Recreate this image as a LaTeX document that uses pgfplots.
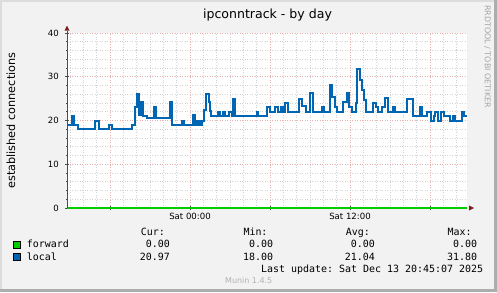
\documentclass[border=0pt]{standalone}
\usepackage{fontspec}
\setmainfont{DejaVu Sans}
\setmonofont{DejaVu Sans Mono}
\usepackage{pgfplots}
\pgfplotsset{compat=1.18}
\definecolor{bgc}{HTML}{F2F2F2}
\definecolor{mgrid}{HTML}{EDB0B0}
\definecolor{ngrid}{HTML}{D2D2D2}
\definecolor{localc}{HTML}{0066B3}
\definecolor{fwdc}{HTML}{00CC00}
\definecolor{arrowc}{HTML}{7F1F1F}
\definecolor{framedark}{HTML}{ADADAD}
\definecolor{framelight}{HTML}{DCDCDC}
\newcommand\mono{\ttfamily\fontsize{10}{12}\selectfont}
\begin{document}
\begin{tikzpicture}[x=1bp,y=1bp]
\useasboundingbox (0,0) rectangle (497,292);
\fill[bgc] (0,0) rectangle (497,292);
\fill[framelight] (0,0) rectangle (2,292);
\fill[framelight] (0,290) rectangle (497,292);
\fill[framedark] (494,0) rectangle (497,292);
\fill[framedark] (0,0) rectangle (497,3);
\begin{axis}[
  at={(67bp,84bp)}, anchor=south west,
  scale only axis, width=400bp, height=175bp,
  xmin=-9.225, xmax=20.775, ymin=0, ymax=40,
  axis line style={draw=none},
  axis background/.style={fill=white},
  clip=false,
  /pgf/number format/assume math mode=true,
  xtick={-6,0,6,12,18}, xticklabels={,Sat 00:00,,Sat 12:00,},
  minor xtick={-9,-8,...,20},
  ytick={0,10,20,30,40}, minor ytick={2,4,...,38},
  grid=both,
  major grid style={mgrid, line width=0.7bp, dash pattern=on 1bp off 1.5bp},
  minor grid style={ngrid, line width=0.7bp, dash pattern=on 1bp off 1.5bp},
  tick pos=left, tick align=center,
  major tick length=4bp, minor tick length=2bp,
  tick style={gray!60!black, line width=0.6bp},
  ticklabel style={font=\fontsize{8.6}{10}\selectfont, text=black},
  yticklabel style={anchor=east, inner sep=0pt, xshift=-6bp},
  xticklabel style={anchor=north, inner sep=0pt, yshift=-3bp},
]
\addplot[fwdc, line width=2bp] coordinates {(-9.225,0) (20.775,0)};
\addplot[const plot, localc, line width=2bp] table {
x y
-9.225 19
-8.85 21
-8.7 19
-8.4 18
-7.125 20
-6.825 18
-6.075 19
-5.85 18
-4.35 19
-4.125 23
-4.0125 26
-3.825 21.3
-3.7125 24.2
-3.525 21
-3.225 20.5
-2.7 23
-2.55 20.5
-1.5375 24.3
-1.35 19
-0.6 20
-0.45 19
0.225 21.3
0.375 19
0.525 20
0.6375 19
0.75 20
0.825 19
0.9 20
1.05 22.4
1.1625 26
1.3875 24.3
1.5 22.2
1.575 21
2.0625 22
2.2125 21
2.475 22
2.625 21
2.925 22
3.15 21
3.225 25
3.375 21
4.9875 22
5.1 21
5.7375 23.2
5.9625 22
6.375 23
6.6 22
6.825 23
6.975 22
7.125 24
7.35 22
8.175 25
8.4 23.3
8.7 22
9.0 26.2
9.225 22
9.9 23
10.05 22
10.5 28.1
10.65 25.3
10.875 23
11.025 22
11.475 24.2
11.7375 26.2
11.8875 23
12.15 22
12.45 24
12.5475 31.8
12.7125 29.3
12.8775 27
13.05 24.8
13.2 22
13.725 23.9
13.95 23
14.1 22
14.4 23
14.625 25.1
14.85 22
15.225 23
15.375 22
16.275 24.9
16.725 21
17.25 23.2
17.4 21
17.775 22
18.0375 20
18.2625 21
18.375 22
18.6 20
18.7875 22
19.05 21
19.5 20
19.6875 21
19.875 20
20.3625 22
20.55 21
20.775 21
};
\end{axis}
% axes with arrows
\draw[gray!60!black, line width=1bp] (67,84) -- (67,261.5);
\fill[arrowc] (64.5,261.3) -- (69.5,261.3) -- (67,266.3) -- cycle;
\fill[arrowc] (469,81.5) -- (469,86.5) -- (474,84) -- cycle;
% titles
\node[anchor=base, inner sep=0pt, font=\fontsize{12.6}{14}\selectfont] at (267.5,273.7) {ipconntrack - by day};
\node[rotate=90, anchor=base, inner sep=0pt, font=\fontsize{11.3}{13}\selectfont] at (15,171.5) {established connections};
\node[rotate=-90, inner sep=0pt, text=gray!70, font=\fontsize{8}{9}\selectfont] at (487.5,235.5) {RRDTOOL / TOBI OETIKER};
% legend
\node[anchor=base west, inner sep=0pt, font=\mono] at (140.7,56.3) {Cur:};
\node[anchor=base west, inner sep=0pt, font=\mono] at (243.3,56.3) {Min:};
\node[anchor=base west, inner sep=0pt, font=\mono] at (345.7,56.3) {Avg:};
\node[anchor=base west, inner sep=0pt, font=\mono] at (447.3,56.3) {Max:};
\filldraw[fill=fwdc, draw=black, line width=0.8bp] (13.5,44) rectangle (20.5,51);
\filldraw[fill=localc, draw=black, line width=0.8bp] (13.5,31.7) rectangle (20.5,38.7);
\node[anchor=base west, inner sep=0pt, font=\mono] at (26.7,44.3) {forward};
\node[anchor=base west, inner sep=0pt, font=\mono] at (26.7,32) {local};
\node[anchor=base east, inner sep=0pt, font=\mono] at (170,44.3) {0.00};
\node[anchor=base east, inner sep=0pt, font=\mono] at (273.3,44.3) {0.00};
\node[anchor=base east, inner sep=0pt, font=\mono] at (375,44.3) {0.00};
\node[anchor=base east, inner sep=0pt, font=\mono] at (477.3,44.3) {0.00};
\node[anchor=base east, inner sep=0pt, font=\mono] at (170,32) {20.97};
\node[anchor=base east, inner sep=0pt, font=\mono] at (273.3,32) {18.00};
\node[anchor=base east, inner sep=0pt, font=\mono] at (375,32) {21.04};
\node[anchor=base east, inner sep=0pt, font=\mono] at (477.3,32) {31.80};
\node[anchor=base east, inner sep=0pt, font=\mono] at (483.3,19.7) {Last update:\ Sat Dec 13 20:45:07 2025};
\node[anchor=base west, inner sep=0pt, text=gray!60, font=\fontsize{8}{9}\selectfont] at (225,8.7) {Munin 1.4.5};
\end{tikzpicture}
\end{document}
